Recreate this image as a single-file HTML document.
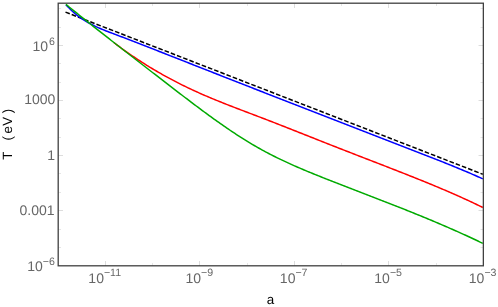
<!DOCTYPE html>
<html><head><meta charset="utf-8"><title>plot</title>
<style>
html,body{margin:0;padding:0;background:#fff;overflow:hidden;}
svg{display:block;font-family:"Liberation Sans",sans-serif;text-rendering:geometricPrecision;}
.tl{font-size:14px;fill:#666;}
.al{font-size:13.4px;fill:#000;}
</style></head><body>
<svg width="498" height="307" viewBox="0 0 498 307">
<rect x="0" y="0" width="498" height="307" fill="#fff"/>
<g fill="none" stroke-width="1.5" stroke-linejoin="round">
<path d="M65.50,12.15 L482.80,174.25" stroke="#000" stroke-dasharray="4.6 2.045"/>
<path d="M65.90,4.64 L67.51,6.41 L69.12,8.09 L70.73,9.69 L72.34,11.21 L73.95,12.64 L75.56,14.01 L77.17,15.31 L78.78,16.54 L80.39,17.71 L82.00,18.82 L83.61,19.88 L85.22,20.89 L86.83,21.85 L88.44,22.77 L90.04,23.64 L91.65,24.48 L93.26,25.29 L94.87,26.07 L96.48,26.83 L98.09,27.56 L99.70,28.27 L101.31,28.96 L102.92,29.63 L104.53,30.29 L106.14,30.94 L107.75,31.57 L109.36,32.20 L110.97,32.81 L112.58,33.42 L114.19,34.02 L115.80,34.63 L117.41,35.23 L119.02,35.83 L120.63,36.43 L122.24,37.04 L123.85,37.65 L125.46,38.26 L127.07,38.88 L128.68,39.50 L130.29,40.12 L131.90,40.74 L133.51,41.36 L135.12,41.99 L136.72,42.61 L138.33,43.24 L139.94,43.87 L141.55,44.50 L143.16,45.13 L144.77,45.76 L146.38,46.39 L147.99,47.01 L149.60,47.64 L151.21,48.27 L152.82,48.90 L154.43,49.53 L156.04,50.17 L157.65,50.80 L159.26,51.43 L160.87,52.06 L162.48,52.69 L164.09,53.32 L165.70,53.95 L167.31,54.58 L168.92,55.22 L170.53,55.85 L172.14,56.48 L173.75,57.11 L175.36,57.74 L176.97,58.38 L178.58,59.01 L180.19,59.64 L181.79,60.27 L183.40,60.91 L185.01,61.54 L186.62,62.17 L188.23,62.81 L189.84,63.44 L191.45,64.07 L193.06,64.70 L194.67,65.34 L196.28,65.97 L197.89,66.60 L199.50,67.23 L201.11,67.87 L202.72,68.50 L204.33,69.13 L205.94,69.77 L207.55,70.40 L209.16,71.03 L210.77,71.66 L212.38,72.29 L213.99,72.93 L215.60,73.56 L217.21,74.19 L218.82,74.82 L220.43,75.45 L222.04,76.08 L223.65,76.72 L225.26,77.35 L226.87,77.98 L228.47,78.61 L230.08,79.24 L231.69,79.87 L233.30,80.50 L234.91,81.13 L236.52,81.76 L238.13,82.39 L239.74,83.02 L241.35,83.65 L242.96,84.28 L244.57,84.91 L246.18,85.54 L247.79,86.17 L249.40,86.79 L251.01,87.42 L252.62,88.05 L254.23,88.68 L255.84,89.31 L257.45,89.94 L259.06,90.57 L260.67,91.19 L262.28,91.82 L263.89,92.45 L265.50,93.08 L267.11,93.71 L268.72,94.33 L270.33,94.96 L271.94,95.59 L273.55,96.22 L275.15,96.84 L276.76,97.47 L278.37,98.10 L279.98,98.72 L281.59,99.35 L283.20,99.98 L284.81,100.60 L286.42,101.23 L288.03,101.86 L289.64,102.48 L291.25,103.11 L292.86,103.74 L294.47,104.36 L296.08,104.99 L297.69,105.61 L299.30,106.24 L300.91,106.86 L302.52,107.49 L304.13,108.12 L305.74,108.74 L307.35,109.37 L308.96,109.99 L310.57,110.62 L312.18,111.24 L313.79,111.87 L315.40,112.49 L317.01,113.12 L318.62,113.74 L320.23,114.37 L321.83,115.00 L323.44,115.62 L325.05,116.25 L326.66,116.87 L328.27,117.49 L329.88,118.12 L331.49,118.74 L333.10,119.37 L334.71,119.99 L336.32,120.62 L337.93,121.24 L339.54,121.87 L341.15,122.49 L342.76,123.12 L344.37,123.74 L345.98,124.37 L347.59,124.99 L349.20,125.62 L350.81,126.24 L352.42,126.86 L354.03,127.49 L355.64,128.11 L357.25,128.74 L358.86,129.36 L360.47,129.99 L362.08,130.61 L363.69,131.24 L365.30,131.86 L366.91,132.48 L368.51,133.11 L370.12,133.73 L371.73,134.36 L373.34,134.98 L374.95,135.61 L376.56,136.23 L378.17,136.86 L379.78,137.48 L381.39,138.10 L383.00,138.73 L384.61,139.35 L386.22,139.98 L387.83,140.60 L389.44,141.23 L391.05,141.85 L392.66,142.48 L394.27,143.10 L395.88,143.73 L397.49,144.35 L399.10,144.98 L400.71,145.60 L402.32,146.23 L403.93,146.85 L405.54,147.48 L407.15,148.10 L408.76,148.73 L410.37,149.35 L411.98,149.98 L413.58,150.60 L415.19,151.23 L416.80,151.85 L418.41,152.48 L420.02,153.10 L421.63,153.73 L423.24,154.35 L424.85,154.98 L426.46,155.61 L428.07,156.23 L429.68,156.86 L431.29,157.49 L432.90,158.12 L434.51,158.75 L436.12,159.38 L437.73,160.01 L439.34,160.65 L440.95,161.29 L442.56,161.92 L444.17,162.56 L445.78,163.21 L447.39,163.85 L449.00,164.50 L450.61,165.15 L452.22,165.80 L453.83,166.45 L455.44,167.11 L457.05,167.77 L458.66,168.44 L460.26,169.10 L461.87,169.77 L463.48,170.45 L465.09,171.12 L466.70,171.80 L468.31,172.49 L469.92,173.18 L471.53,173.87 L473.14,174.57 L474.75,175.27 L476.36,175.98 L477.97,176.69 L479.58,177.41 L481.19,178.13 L482.80,178.85" stroke="#0000ff"/>
<path d="M114.00,42.70 L115.42,43.77 L116.85,44.84 L118.27,45.90 L119.70,46.95 L121.12,47.99 L122.54,49.03 L123.97,50.05 L125.39,51.07 L126.82,52.07 L128.24,53.07 L129.66,54.06 L131.09,55.04 L132.51,56.02 L133.94,56.98 L135.36,57.93 L136.78,58.88 L138.21,59.82 L139.63,60.75 L141.05,61.67 L142.48,62.58 L143.90,63.49 L145.33,64.38 L146.75,65.27 L148.17,66.15 L149.60,67.02 L151.02,67.89 L152.45,68.74 L153.87,69.59 L155.29,70.43 L156.72,71.27 L158.14,72.09 L159.57,72.91 L160.99,73.72 L162.41,74.53 L163.84,75.32 L165.26,76.11 L166.69,76.90 L168.11,77.67 L169.53,78.44 L170.96,79.20 L172.38,79.96 L173.81,80.70 L175.23,81.44 L176.65,82.18 L178.08,82.91 L179.50,83.63 L180.93,84.34 L182.35,85.05 L183.77,85.75 L185.20,86.45 L186.62,87.14 L188.04,87.82 L189.47,88.50 L190.89,89.17 L192.32,89.83 L193.74,90.49 L195.16,91.15 L196.59,91.80 L198.01,92.44 L199.44,93.08 L200.86,93.71 L202.28,94.33 L203.71,94.95 L205.13,95.57 L206.56,96.18 L207.98,96.79 L209.40,97.39 L210.83,97.99 L212.25,98.58 L213.68,99.17 L215.10,99.76 L216.52,100.34 L217.95,100.92 L219.37,101.50 L220.80,102.07 L222.22,102.64 L223.64,103.21 L225.07,103.77 L226.49,104.33 L227.92,104.89 L229.34,105.45 L230.76,106.00 L232.19,106.55 L233.61,107.10 L235.03,107.65 L236.46,108.20 L237.88,108.74 L239.31,109.29 L240.73,109.83 L242.15,110.38 L243.58,110.92 L245.00,111.46 L246.43,112.00 L247.85,112.54 L249.27,113.08 L250.70,113.62 L252.12,114.16 L253.55,114.70 L254.97,115.24 L256.39,115.78 L257.82,116.33 L259.24,116.87 L260.67,117.41 L262.09,117.96 L263.51,118.51 L264.94,119.05 L266.36,119.60 L267.79,120.15 L269.21,120.70 L270.63,121.26 L272.06,121.81 L273.48,122.36 L274.91,122.92 L276.33,123.47 L277.75,124.03 L279.18,124.58 L280.60,125.14 L282.02,125.70 L283.45,126.26 L284.87,126.82 L286.30,127.38 L287.72,127.94 L289.14,128.50 L290.57,129.06 L291.99,129.62 L293.42,130.18 L294.84,130.74 L296.26,131.31 L297.69,131.87 L299.11,132.43 L300.54,133.00 L301.96,133.56 L303.38,134.12 L304.81,134.69 L306.23,135.25 L307.66,135.82 L309.08,136.38 L310.50,136.95 L311.93,137.51 L313.35,138.07 L314.78,138.64 L316.20,139.20 L317.62,139.77 L319.05,140.33 L320.47,140.89 L321.89,141.46 L323.32,142.02 L324.74,142.58 L326.17,143.14 L327.59,143.70 L329.01,144.26 L330.44,144.83 L331.86,145.39 L333.29,145.95 L334.71,146.50 L336.13,147.06 L337.56,147.62 L338.98,148.18 L340.41,148.73 L341.83,149.29 L343.25,149.85 L344.68,150.40 L346.10,150.95 L347.53,151.51 L348.95,152.06 L350.37,152.62 L351.80,153.17 L353.22,153.72 L354.65,154.27 L356.07,154.83 L357.49,155.38 L358.92,155.93 L360.34,156.48 L361.77,157.03 L363.19,157.58 L364.61,158.14 L366.04,158.69 L367.46,159.24 L368.88,159.79 L370.31,160.34 L371.73,160.89 L373.16,161.44 L374.58,162.00 L376.00,162.55 L377.43,163.10 L378.85,163.65 L380.28,164.21 L381.70,164.76 L383.12,165.31 L384.55,165.87 L385.97,166.42 L387.40,166.97 L388.82,167.53 L390.24,168.08 L391.67,168.64 L393.09,169.20 L394.52,169.75 L395.94,170.31 L397.36,170.87 L398.79,171.43 L400.21,171.99 L401.64,172.55 L403.06,173.11 L404.48,173.67 L405.91,174.23 L407.33,174.80 L408.76,175.36 L410.18,175.93 L411.60,176.49 L413.03,177.06 L414.45,177.63 L415.87,178.20 L417.30,178.77 L418.72,179.34 L420.15,179.91 L421.57,180.49 L422.99,181.06 L424.42,181.64 L425.84,182.22 L427.27,182.80 L428.69,183.38 L430.11,183.97 L431.54,184.55 L432.96,185.14 L434.39,185.73 L435.81,186.32 L437.23,186.92 L438.66,187.51 L440.08,188.11 L441.51,188.71 L442.93,189.32 L444.35,189.92 L445.78,190.53 L447.20,191.14 L448.63,191.76 L450.05,192.37 L451.47,192.99 L452.90,193.62 L454.32,194.24 L455.75,194.87 L457.17,195.50 L458.59,196.14 L460.02,196.77 L461.44,197.42 L462.86,198.06 L464.29,198.71 L465.71,199.36 L467.14,200.02 L468.56,200.67 L469.98,201.34 L471.41,202.00 L472.83,202.67 L474.26,203.35 L475.68,204.03 L477.10,204.71 L478.53,205.40 L479.95,206.09 L481.38,206.78 L482.80,207.48" stroke="#ff0000"/>
<path d="M65.90,4.35 L67.51,5.65 L69.12,6.96 L70.73,8.26 L72.34,9.56 L73.95,10.86 L75.56,12.16 L77.17,13.45 L78.78,14.75 L80.39,16.04 L82.00,17.33 L83.61,18.61 L85.22,19.90 L86.83,21.18 L88.44,22.46 L90.04,23.74 L91.65,25.01 L93.26,26.29 L94.87,27.56 L96.48,28.84 L98.09,30.11 L99.70,31.38 L101.31,32.64 L102.92,33.91 L104.53,35.17 L106.14,36.44 L107.75,37.70 L109.36,38.96 L110.97,40.22 L112.58,41.48 L114.19,42.74 L115.80,43.99 L117.41,45.25 L119.02,46.51 L120.63,47.76 L122.24,49.01 L123.85,50.26 L125.46,51.52 L127.07,52.77 L128.68,54.02 L130.29,55.27 L131.90,56.52 L133.51,57.77 L135.12,59.01 L136.72,60.26 L138.33,61.51 L139.94,62.76 L141.55,64.00 L143.16,65.25 L144.77,66.50 L146.38,67.74 L147.99,68.99 L149.60,70.23 L151.21,71.47 L152.82,72.72 L154.43,73.96 L156.04,75.20 L157.65,76.45 L159.26,77.69 L160.87,78.93 L162.48,80.17 L164.09,81.41 L165.70,82.65 L167.31,83.89 L168.92,85.13 L170.53,86.37 L172.14,87.61 L173.75,88.85 L175.36,90.09 L176.97,91.32 L178.58,92.56 L180.19,93.79 L181.79,95.02 L183.40,96.25 L185.01,97.48 L186.62,98.70 L188.23,99.93 L189.84,101.15 L191.45,102.36 L193.06,103.58 L194.67,104.79 L196.28,106.00 L197.89,107.20 L199.50,108.41 L201.11,109.60 L202.72,110.80 L204.33,111.99 L205.94,113.17 L207.55,114.35 L209.16,115.53 L210.77,116.70 L212.38,117.86 L213.99,119.02 L215.60,120.17 L217.21,121.32 L218.82,122.46 L220.43,123.60 L222.04,124.72 L223.65,125.84 L225.26,126.96 L226.87,128.06 L228.47,129.16 L230.08,130.25 L231.69,131.33 L233.30,132.41 L234.91,133.47 L236.52,134.53 L238.13,135.57 L239.74,136.61 L241.35,137.64 L242.96,138.66 L244.57,139.67 L246.18,140.67 L247.79,141.66 L249.40,142.63 L251.01,143.60 L252.62,144.55 L254.23,145.50 L255.84,146.43 L257.45,147.35 L259.06,148.26 L260.67,149.16 L262.28,150.05 L263.89,150.92 L265.50,151.79 L267.11,152.64 L268.72,153.49 L270.33,154.32 L271.94,155.15 L273.55,155.96 L275.15,156.77 L276.76,157.57 L278.37,158.35 L279.98,159.13 L281.59,159.91 L283.20,160.67 L284.81,161.42 L286.42,162.17 L288.03,162.91 L289.64,163.65 L291.25,164.37 L292.86,165.09 L294.47,165.81 L296.08,166.52 L297.69,167.22 L299.30,167.91 L300.91,168.60 L302.52,169.29 L304.13,169.97 L305.74,170.64 L307.35,171.32 L308.96,171.98 L310.57,172.64 L312.18,173.30 L313.79,173.96 L315.40,174.61 L317.01,175.26 L318.62,175.90 L320.23,176.55 L321.83,177.19 L323.44,177.83 L325.05,178.46 L326.66,179.10 L328.27,179.73 L329.88,180.37 L331.49,181.00 L333.10,181.63 L334.71,182.26 L336.32,182.88 L337.93,183.51 L339.54,184.14 L341.15,184.76 L342.76,185.39 L344.37,186.01 L345.98,186.64 L347.59,187.26 L349.20,187.88 L350.81,188.51 L352.42,189.13 L354.03,189.75 L355.64,190.37 L357.25,190.99 L358.86,191.61 L360.47,192.24 L362.08,192.86 L363.69,193.48 L365.30,194.10 L366.91,194.72 L368.51,195.34 L370.12,195.96 L371.73,196.59 L373.34,197.21 L374.95,197.83 L376.56,198.45 L378.17,199.08 L379.78,199.70 L381.39,200.33 L383.00,200.95 L384.61,201.58 L386.22,202.21 L387.83,202.83 L389.44,203.46 L391.05,204.09 L392.66,204.72 L394.27,205.36 L395.88,205.99 L397.49,206.62 L399.10,207.26 L400.71,207.90 L402.32,208.53 L403.93,209.17 L405.54,209.81 L407.15,210.46 L408.76,211.10 L410.37,211.75 L411.98,212.39 L413.58,213.04 L415.19,213.69 L416.80,214.35 L418.41,215.00 L420.02,215.66 L421.63,216.31 L423.24,216.98 L424.85,217.64 L426.46,218.30 L428.07,218.97 L429.68,219.64 L431.29,220.31 L432.90,220.98 L434.51,221.66 L436.12,222.34 L437.73,223.02 L439.34,223.71 L440.95,224.39 L442.56,225.08 L444.17,225.78 L445.78,226.47 L447.39,227.17 L449.00,227.87 L450.61,228.57 L452.22,229.28 L453.83,229.99 L455.44,230.70 L457.05,231.42 L458.66,232.14 L460.26,232.86 L461.87,233.59 L463.48,234.32 L465.09,235.05 L466.70,235.79 L468.31,236.53 L469.92,237.28 L471.53,238.02 L473.14,238.78 L474.75,239.53 L476.36,240.29 L477.97,241.05 L479.58,241.82 L481.19,242.59 L482.80,243.37" stroke="#00aa00"/>
</g>
<g stroke="#666" stroke-width="1">
<line x1="58.2" y1="247.50" x2="61.00" y2="247.50" stroke-opacity="0.17"/>
<line x1="483.35" y1="247.50" x2="480.55" y2="247.50" stroke-opacity="0.17"/>
<line x1="58.2" y1="229.50" x2="61.00" y2="229.50" stroke-opacity="0.17"/>
<line x1="483.35" y1="229.50" x2="480.55" y2="229.50" stroke-opacity="0.17"/>
<line x1="58.2" y1="210.50" x2="63.00" y2="210.50" stroke-opacity="0.22"/>
<line x1="483.35" y1="210.50" x2="478.55" y2="210.50" stroke-opacity="0.22"/>
<line x1="58.2" y1="192.50" x2="61.00" y2="192.50" stroke-opacity="0.17"/>
<line x1="483.35" y1="192.50" x2="480.55" y2="192.50" stroke-opacity="0.17"/>
<line x1="58.2" y1="173.50" x2="61.00" y2="173.50" stroke-opacity="0.17"/>
<line x1="483.35" y1="173.50" x2="480.55" y2="173.50" stroke-opacity="0.17"/>
<line x1="58.2" y1="155.50" x2="63.00" y2="155.50" stroke-opacity="0.22"/>
<line x1="483.35" y1="155.50" x2="478.55" y2="155.50" stroke-opacity="0.22"/>
<line x1="58.2" y1="137.50" x2="61.00" y2="137.50" stroke-opacity="0.17"/>
<line x1="483.35" y1="137.50" x2="480.55" y2="137.50" stroke-opacity="0.17"/>
<line x1="58.2" y1="118.50" x2="61.00" y2="118.50" stroke-opacity="0.17"/>
<line x1="483.35" y1="118.50" x2="480.55" y2="118.50" stroke-opacity="0.17"/>
<line x1="58.2" y1="100.50" x2="63.00" y2="100.50" stroke-opacity="0.22"/>
<line x1="483.35" y1="100.50" x2="478.55" y2="100.50" stroke-opacity="0.22"/>
<line x1="58.2" y1="82.50" x2="61.00" y2="82.50" stroke-opacity="0.17"/>
<line x1="483.35" y1="82.50" x2="480.55" y2="82.50" stroke-opacity="0.17"/>
<line x1="58.2" y1="63.50" x2="61.00" y2="63.50" stroke-opacity="0.17"/>
<line x1="483.35" y1="63.50" x2="480.55" y2="63.50" stroke-opacity="0.17"/>
<line x1="58.2" y1="45.50" x2="63.00" y2="45.50" stroke-opacity="0.22"/>
<line x1="483.35" y1="45.50" x2="478.55" y2="45.50" stroke-opacity="0.22"/>
<line x1="58.2" y1="27.50" x2="61.00" y2="27.50" stroke-opacity="0.17"/>
<line x1="483.35" y1="27.50" x2="480.55" y2="27.50" stroke-opacity="0.17"/>
<line x1="58.2" y1="8.50" x2="61.00" y2="8.50" stroke-opacity="0.17"/>
<line x1="483.35" y1="8.50" x2="480.55" y2="8.50" stroke-opacity="0.17"/>
<line x1="105.50" y1="265.8" x2="105.50" y2="261.00" stroke-opacity="0.22"/>
<line x1="105.50" y1="3.2" x2="105.50" y2="8.00" stroke-opacity="0.22"/>
<line x1="152.50" y1="265.8" x2="152.50" y2="263.00" stroke-opacity="0.17"/>
<line x1="152.50" y1="3.2" x2="152.50" y2="6.00" stroke-opacity="0.17"/>
<line x1="199.50" y1="265.8" x2="199.50" y2="261.00" stroke-opacity="0.22"/>
<line x1="199.50" y1="3.2" x2="199.50" y2="8.00" stroke-opacity="0.22"/>
<line x1="247.50" y1="265.8" x2="247.50" y2="263.00" stroke-opacity="0.17"/>
<line x1="247.50" y1="3.2" x2="247.50" y2="6.00" stroke-opacity="0.17"/>
<line x1="294.50" y1="265.8" x2="294.50" y2="261.00" stroke-opacity="0.22"/>
<line x1="294.50" y1="3.2" x2="294.50" y2="8.00" stroke-opacity="0.22"/>
<line x1="341.50" y1="265.8" x2="341.50" y2="263.00" stroke-opacity="0.17"/>
<line x1="341.50" y1="3.2" x2="341.50" y2="6.00" stroke-opacity="0.17"/>
<line x1="388.50" y1="265.8" x2="388.50" y2="261.00" stroke-opacity="0.22"/>
<line x1="388.50" y1="3.2" x2="388.50" y2="8.00" stroke-opacity="0.22"/>
<line x1="436.50" y1="265.8" x2="436.50" y2="263.00" stroke-opacity="0.17"/>
<line x1="436.50" y1="3.2" x2="436.50" y2="6.00" stroke-opacity="0.17"/>
</g>
<rect x="58.2" y="3.2" width="425.15000000000003" height="262.6" fill="none" stroke="#404040" stroke-width="1.3"/>
<g style="will-change:transform" opacity="0.998">
<text x="54.90" y="51.00" text-anchor="end" class="tl">10<tspan dx="0.9" dy="-6.4" font-size="10.6">6</tspan></text>
<text x="55.4" y="104.4" text-anchor="end" class="tl">1000</text>
<text x="55.0" y="159.5" text-anchor="end" class="tl">1</text>
<text x="54.6" y="214.7" text-anchor="end" class="tl">0.001</text>
<text x="54.80" y="270.90" text-anchor="end" class="tl">10<tspan dx="0" dy="-5.9" font-size="10.6">−6</tspan></text>
<text x="104.74" y="283.30" text-anchor="middle" class="tl">10<tspan dx="0" dy="-7.1" font-size="10.6">−11</tspan></text>
<text x="199.22" y="283.30" text-anchor="middle" class="tl">10<tspan dx="0" dy="-7.1" font-size="10.6">−9</tspan></text>
<text x="293.69" y="283.30" text-anchor="middle" class="tl">10<tspan dx="0" dy="-7.1" font-size="10.6">−7</tspan></text>
<text x="388.17" y="283.30" text-anchor="middle" class="tl">10<tspan dx="0" dy="-7.1" font-size="10.6">−5</tspan></text>
<text x="482.65" y="283.30" text-anchor="middle" class="tl">10<tspan dx="0" dy="-7.1" font-size="10.6">−3</tspan></text>
<text x="266.65" y="303.55" class="al">a</text>
<g transform="translate(12.2,159.6) rotate(-90)" class="al">
<text x="-0.1" y="0">T</text>
<text x="19.0" y="0">(</text>
<text x="26.1" y="0">e</text>
<text x="33.8" y="0">V</text>
<text x="46.4" y="0">)</text>
</g>
</g>
</svg>
</body></html>
